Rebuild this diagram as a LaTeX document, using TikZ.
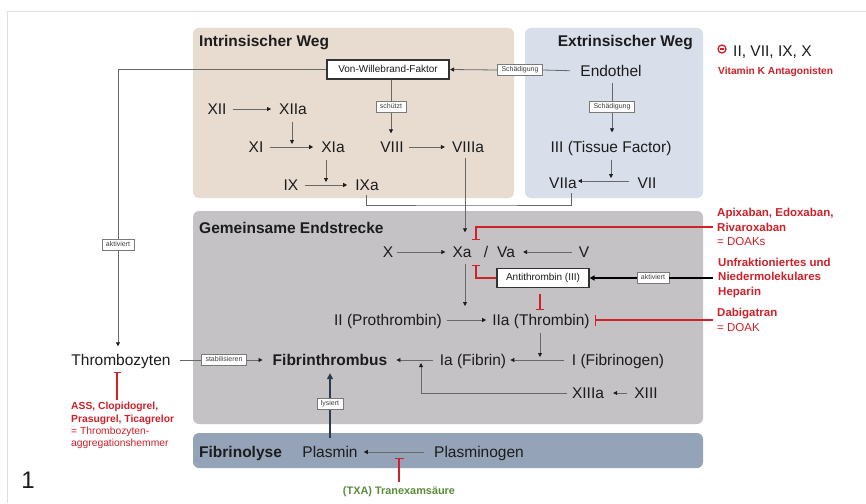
\documentclass[tikz,border=0pt]{standalone}
\usepackage{fontspec}
\setmainfont{Liberation Sans}
\usetikzlibrary{arrows.meta,calc}

\definecolor{intr}{HTML}{E8DCD1}
\definecolor{extr}{HTML}{D8DFEB}
\definecolor{comm}{HTML}{C4C2C5}
\definecolor{fibl}{HTML}{94A3B8}
\definecolor{dred}{HTML}{CE2129}
\definecolor{dgreen}{HTML}{5B8C3A}
\definecolor{txt}{HTML}{1C1C1C}
\definecolor{lnc}{HTML}{686868}
\definecolor{navy}{HTML}{2E3A4E}
\definecolor{tagc}{HTML}{7A7A7A}
\definecolor{bordc}{HTML}{DDDDDD}

\tikzset{
  lbl/.style={font=\fontsize{15.5}{18}\selectfont, inner sep=0pt, text height=11pt, text depth=0pt, text=txt},
  ttl/.style={font=\fontsize{15.5}{18}\selectfont\bfseries, inner sep=0pt, text height=11pt, text depth=0pt, text=txt},
  tagbox/.style={draw=tagc, line width=0.6pt, fill=white, font=\fontsize{7}{8}\selectfont, text=txt!85, inner xsep=4pt, inner ysep=0pt, minimum height=11pt, text height=5.2pt, text depth=1.4pt},
  bigbox/.style={draw=txt!90, line width=1.1pt, fill=white, font=\fontsize{10}{12}\selectfont, text=txt, inner sep=0pt, minimum height=19pt, text height=7.2pt, text depth=2pt},
  redtxt/.style={font=\fontsize{11.5}{14.5}\selectfont, align=left, inner sep=0pt, text=dred},
  asstxt/.style={font=\fontsize{10.3}{12.3}\selectfont, align=left, inner sep=0pt, text=dred},
  plain/.style={draw=lnc, line width=0.8pt},
  conn/.style={plain, shorten <=6pt, shorten >=8pt, -{Triangle[length=4pt,width=4pt,color=txt]}},
  heavy/.style={draw=black, line width=1.8pt},
  heavyconn/.style={heavy, -{Triangle[length=5pt,width=5pt]}},
  navyline/.style={draw=navy, line width=2.2pt},
  navyconn/.style={navyline, -{Triangle[length=6pt,width=6pt]}},
  inh/.style={draw=dred, line width=1.2pt, -{Bar[width=8pt,line width=1.2pt]}},
  region/.style={rounded corners=6pt}
}

\begin{document}
\begin{tikzpicture}[x=1pt,y=-1pt]
\useasboundingbox (0,0) rectangle (866,503);
\fill[white] (0,0) rectangle (866,503);
\draw[bordc, line width=1pt] (7,12) -- (866,12);
\draw[bordc, line width=1pt] (7,12) -- (7,503);

% regions
\fill[intr, region] (193,28) rectangle (514,198);
\fill[extr, region] (525,28) rectangle (703,198);
\fill[comm, region] (193,211) rectangle (703,424);
\fill[fibl, region] (193,433) rectangle (703,468);

\node[ttl, anchor=west] (tintr) at (199,41) {Intrinsischer Weg};
\node[ttl, anchor=east] (textr) at (693,41) {Extrinsischer Weg};
\node[ttl, anchor=west] (tcomm) at (199,228) {Gemeinsame Endstrecke};
\node[ttl, anchor=west] (tfib) at (199,452) {Fibrinolyse};

% intrinsic
\node[lbl] (xii) at (217,109) {XII};
\node[lbl] (xiia) at (293,109) {XIIa};
\node[lbl] (xi) at (256,147) {XI};
\node[lbl] (xia) at (333,147) {XIa};
\node[lbl] (ix) at (291,185) {IX};
\node[lbl] (ixa) at (367,185) {IXa};
\node[lbl] (viii) at (392,147) {VIII};
\node[lbl] (viiia) at (468,147) {VIIIa};
\node[bigbox, minimum width=122pt] (vwf) at (388,69.5) {Von-Willebrand-Faktor};
\node[tagbox] (schz) at (391,107) {schützt};

% extrinsic
\node[lbl] (endo) at (611,71) {Endothel};
\node[tagbox] (sch1) at (520,70) {Schädigung};
\node[tagbox] (sch2) at (612,107) {Schädigung};
\node[lbl] (iii) at (611,147) {III (Tissue Factor)};
\node[lbl] (viia) at (563,183) {VIIa};
\node[lbl] (vii) at (647,183) {VII};

% common pathway
\node[lbl] (x) at (388,252) {X};
\node[lbl] (xa) at (462,252) {Xa};
\node[lbl] (sl) at (486,252) {/};
\node[lbl] (va) at (506,252) {Va};
\node[lbl] (v) at (584,252) {V};
\node[bigbox, minimum width=92pt] (at) at (543,278) {Antithrombin (III)};
\node[tagbox] (akt2) at (653,278) {aktiviert};
\node[lbl] (ii) at (388,320) {II (Prothrombin)};
\node[lbl] (iia) at (541,320) {IIa (Thrombin)};
\node[lbl] (ia) at (473,360) {Ia (Fibrin)};
\node[lbl] (i) at (618,360) {I (Fibrinogen)};
\node[ttl] (fib) at (330,360) {Fibrinthrombus};
\node[lbl] (xiiia) at (588,393) {XIIIa};
\node[lbl] (xiii) at (646,393) {XIII};
\coordinate (xj) at (421,360);

% platelets
\node[lbl] (thr) at (121,360) {Thrombozyten};
\node[tagbox] (stab) at (224,360) {stabilisieren};
\node[tagbox] (akt1) at (118,245) {aktiviert};

% fibrinolysis
\node[lbl] (plasmin) at (330,452) {Plasmin};
\node[lbl] (plasminogen) at (479,452) {Plasminogen};
\node[tagbox] (lys) at (330,404) {lysiert};

% right-hand texts
\node[circle, draw=dred, line width=1.3pt, minimum size=8pt, inner sep=0pt] (vkm) at (722,49) {};
\node[lbl, anchor=west] (vk) at (733,51) {II, VII, IX, X};
\node[font=\fontsize{10.2}{12}\selectfont\bfseries, text=dred, inner sep=0pt, anchor=west] (vka) at (718,72) {Vitamin K Antagonisten};
\node[redtxt, anchor=west] (apix) at (717,227) {\textbf{Apixaban, Edoxaban,}\\\textbf{Rivaroxaban}\\= DOAKs};
\node[redtxt, anchor=west] (hep) at (718,278) {\textbf{Unfraktioniertes und}\\\textbf{Niedermolekulares}\\\textbf{Heparin}};
\node[redtxt, anchor=west] (dabi) at (717,320) {\textbf{Dabigatran}\\= DOAK};
\node[asstxt, anchor=west] (ass) at (71,425.5) {\textbf{ASS, Clopidogrel,}\\\textbf{Prasugrel, Ticagrelor}\\= Thrombozyten-\\aggregationshemmer};
\node[font=\fontsize{10.9}{13}\selectfont\bfseries, text=dgreen, inner sep=0pt] (txa) at (399,492) {(TXA) Tranexamsäure};
\node[font=\fontsize{24}{28}\selectfont, inner sep=0pt, text=txt] (one) at (28,480) {1};

% ---- connectors: intrinsic
\draw[conn] (xii) -- (xiia);
\draw[conn] (xi) -- (xia);
\draw[conn] (ix) -- (ixa);
\draw[conn, shorten <=5pt, shorten >=7pt] (viii) -- (viiia);
\draw[conn, shorten <=7pt, shorten >=3pt] ([xshift=-1pt]xiia.south) -- ([xshift=-1pt]xiia.south |- xi);
\draw[conn, shorten <=7pt, shorten >=3pt] ([xshift=-7pt]xia.south) -- ([xshift=-7pt]xia.south |- ix);
\draw[plain] ([xshift=3pt]vwf.south) -- (schz.north);
\draw[conn, shorten <=0pt, shorten >=8pt] (schz.south) -- (schz.south |- viii.north);

% extrinsic
\draw[plain, shorten <=10pt] (endo.west) -- (sch1.east);
\draw[conn, shorten <=0pt, shorten >=0.5pt] (sch1.west) -- (vwf.east);
\draw[plain, shorten <=6pt] ([xshift=1pt]endo.south) -- (sch2.north);
\draw[conn, shorten <=0pt, shorten >=9pt] (sch2.south) -- (sch2.south |- iii.north);
\draw[conn, shorten <=7pt, shorten >=3pt] (iii.south) -- ([yshift=2pt]iii.south |- vii);
\draw[conn, shorten <=8pt, shorten >=1pt] ([yshift=2pt]vii.west) -- ([yshift=2pt]viia.east);

% bracket IXa / VIIa
\coordinate (brk) at (465,205);
\draw[plain] ([xshift=-1pt,yshift=-4pt]ixa.south) |- (brk) -| ([xshift=8pt,yshift=-4pt]viia.south);
\draw[conn, shorten <=5pt, shorten >=14pt] ([xshift=-3pt]viiia.south) -- ([xshift=3pt]xa.north);

% common pathway
\draw[conn, shorten <=4pt, shorten >=7pt] (x) -- (xa);
\draw[conn, shorten <=7pt, shorten >=8pt] (v) -- (va);
\draw[conn, shorten <=6pt, shorten >=14pt] ([xshift=3pt]xa.south) -- ([xshift=3pt]xa.south |- ii);
\draw[conn, shorten <=5pt, shorten >=6pt] (ii) -- (iia);
\draw[conn, shorten <=7pt, shorten >=3pt] ([xshift=-1pt]iia.south) -- ([xshift=-1pt]iia.south |- i);
\draw[conn, shorten <=8pt, shorten >=4pt] (i) -- (ia);
\draw[conn, shorten <=7pt, shorten >=9pt] (ia) -- (fib);
\draw[conn, shorten <=7pt, shorten >=9pt] (xiii) -- (xiiia);
\draw[conn, shorten <=5pt, shorten >=3pt] (xiiia.west) -| (xj);

% platelets
\draw[plain, shorten <=9pt] (thr.east) -- (stab.west);
\draw[conn, shorten <=0pt, shorten >=10pt] (stab.east) -- (fib.west);
\draw[plain] (vwf.west) -| (akt1.north);
\draw[conn, shorten <=0pt, shorten >=8pt] (akt1.south) -- (akt1.south |- thr.north);

% heparin
\draw[heavy] ([xshift=-5pt]hep.west |- akt2) -- (akt2.east);
\draw[heavyconn] (akt2.west) -- (at.east);

% fibrinolysis
\draw[conn, shorten <=10pt, shorten >=6pt] (plasminogen) -- (plasmin);
\draw[navyline, shorten <=8pt] (plasmin.north) -- (lys.south);
\draw[navyconn, shorten >=7.5pt] (lys.north) -- (fib.south);

% inhibitors
\draw[inh] ([xshift=-4pt]apix.west) -| ([xshift=14pt,yshift=6.5pt]xa.north);
\draw[inh] (at.west) -| ([xshift=14pt,yshift=-7.5pt]xa.south);
\draw[inh, shorten <=6pt] ([xshift=-3pt]at.south) -- ([xshift=-1pt,yshift=4.5pt]iia.north);
\draw[inh, -{Bar[width=11pt,line width=1.2pt]}] ([xshift=-4pt]dabi.west |- iia.east) -- ([xshift=5pt]iia.east);
\draw[inh, -{Bar[width=7pt,line width=1.2pt]}] ([xshift=-4pt,yshift=2pt]thr.south |- ass.north) -- ([xshift=-4pt,yshift=-6.5pt]thr.south);
\draw[inh, -{Bar[width=9pt,line width=1.2pt]}, shorten <=5pt] (txa.north) -- (txa.north |- plasmin.south);
\draw[dred, line width=1.3pt] ([xshift=-2.2pt]vkm.center) -- ([xshift=2.2pt]vkm.center);
\end{tikzpicture}
\end{document}
